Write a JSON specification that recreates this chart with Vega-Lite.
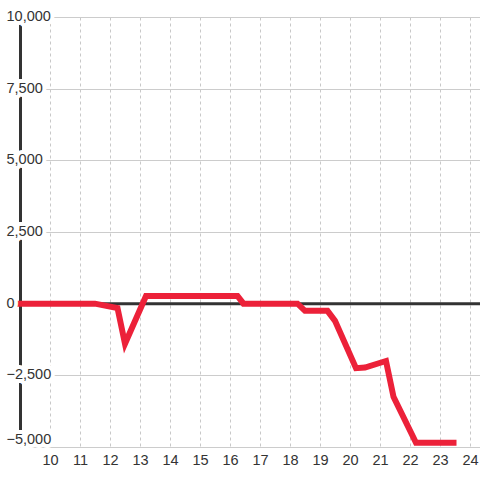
{
  "$schema": "https://vega.github.io/schema/vega-lite/v6.json",
  "width": 460,
  "height": 430,
  "autosize": "none",
  "padding": {"left": 20, "top": 17, "right": 0, "bottom": 33},
  "background": "white",
  "config": {
    "view": {"stroke": null},
    "font": "Liberation Sans",
    "axisX": {
      "domain": false, "ticks": false, "labelPadding": 6,
      "labelFontSize": 14.5, "labelColor": "#333", "labelFont": "Liberation Sans",
      "labelOverlap": false, "labelFlush": false, "tickCount": 15,
      "grid": true, "gridColor": "#c8c8c8", "gridDash": [3, 3], "gridWidth": 1, "title": null
    },
    "axisY": {
      "labels": false, "ticks": false,
      "domain": true, "domainColor": "#333", "domainWidth": 3,
      "grid": true, "gridColor": "#cccccc", "gridWidth": 1, "title": null
    }
  },
  "datasets": {
    "series": [
      {"x": 8.9, "y": 0},
      {"x": 11.5, "y": 0},
      {"x": 12.25, "y": -150},
      {"x": 12.5, "y": -1400},
      {"x": 13.2, "y": 270},
      {"x": 16.25, "y": 270},
      {"x": 16.45, "y": 0},
      {"x": 18.25, "y": 0},
      {"x": 18.5, "y": -250},
      {"x": 19.25, "y": -250},
      {"x": 19.5, "y": -600},
      {"x": 20.2, "y": -2250},
      {"x": 20.5, "y": -2230},
      {"x": 21.2, "y": -2000},
      {"x": 21.45, "y": -3250},
      {"x": 22.2, "y": -4850},
      {"x": 23.55, "y": -4850}
    ],
    "zero": [{"y": 0}],
    "ylabels": [
      {"v": -5000}, {"v": -2500}, {"v": 0}, {"v": 2500}, {"v": 5000}, {"v": 7500}, {"v": 10000}
    ]
  },
  "layer": [
    {
      "data": {"name": "zero"},
      "mark": {"type": "rule", "color": "#333", "strokeWidth": 3},
      "encoding": {
        "y": {"field": "y", "type": "quantitative",
          "scale": {"domain": [-5000, 10000], "nice": false},
          "axis": {"values": [-5000,-3750,-2500,-1250,0,1250,2500,3750,5000,6250,7500,8750,10000]}}
      }
    },
    {
      "data": {"name": "series"},
      "mark": {"type": "line", "color": "#ec2139", "strokeWidth": 6, "strokeJoin": "miter", "strokeCap": "butt"},
      "encoding": {
        "x": {
          "field": "x", "type": "quantitative",
          "scale": {"domain": [9, 24.3333], "nice": false, "zero": false},
          "axis": {"values": [10,11,12,13,14,15,16,17,18,19,20,21,22,23,24], "labelOverlap": false}
        },
        "y": {
          "field": "y", "type": "quantitative",
          "scale": {"domain": [-5000, 10000], "nice": false},
          "axis": {"values": [-5000,-3750,-2500,-1250,0,1250,2500,3750,5000,6250,7500,8750,10000]}
        }
      }
    },
    {
      "data": {"name": "ylabels"},
      "transform": [{"filter": "datum.v > -5000"}],
      "mark": {"type": "text", "align": "left", "baseline": "middle", "fontSize": 14.5, "font": "Liberation Sans", "fill": "white", "stroke": "white", "strokeWidth": 8, "strokeJoin": "round"},
      "encoding": {
        "x": {"datum": 8.55, "type": "quantitative", "axis": {"values": [10,11,12,13,14,15,16,17,18,19,20,21,22,23,24], "labelOverlap": false}},
        "y": {"field": "v", "type": "quantitative"},
        "text": {"field": "v", "type": "quantitative", "format": ","}
      }
    },
    {
      "data": {"name": "ylabels"},
      "transform": [{"filter": "datum.v == -5000"}],
      "mark": {"type": "text", "align": "left", "baseline": "bottom", "fontSize": 14.5, "font": "Liberation Sans", "fill": "white", "stroke": "white", "strokeWidth": 8, "strokeJoin": "round"},
      "encoding": {
        "x": {"datum": 8.55, "type": "quantitative", "axis": {"values": [10,11,12,13,14,15,16,17,18,19,20,21,22,23,24], "labelOverlap": false}},
        "y": {"field": "v", "type": "quantitative"},
        "text": {"field": "v", "type": "quantitative", "format": ","}
      }
    },
    {
      "data": {"name": "ylabels"},
      "transform": [{"filter": "datum.v > -5000"}],
      "mark": {"type": "text", "align": "left", "baseline": "middle", "fontSize": 14.5, "font": "Liberation Sans", "fill": "#333"},
      "encoding": {
        "x": {"datum": 8.55, "type": "quantitative", "axis": {"values": [10,11,12,13,14,15,16,17,18,19,20,21,22,23,24], "labelOverlap": false}},
        "y": {"field": "v", "type": "quantitative"},
        "text": {"field": "v", "type": "quantitative", "format": ","}
      }
    },
    {
      "data": {"name": "ylabels"},
      "transform": [{"filter": "datum.v == -5000"}],
      "mark": {"type": "text", "align": "left", "baseline": "bottom", "fontSize": 14.5, "font": "Liberation Sans", "fill": "#333"},
      "encoding": {
        "x": {"datum": 8.55, "type": "quantitative", "axis": {"values": [10,11,12,13,14,15,16,17,18,19,20,21,22,23,24], "labelOverlap": false}},
        "y": {"field": "v", "type": "quantitative"},
        "text": {"field": "v", "type": "quantitative", "format": ","}
      }
    }
  ]
}
